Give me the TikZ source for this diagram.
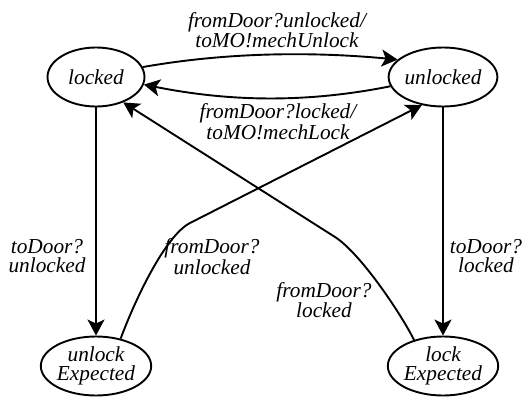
\documentclass[tikz,border=0pt]{standalone}
\usepackage{fontspec}
\setmainfont{Liberation Serif}
\newfontfamily\diagfont{Liberation Serif}
\usetikzlibrary{shapes.geometric,arrows.meta}
\newcommand{\labfont}{\diagfont\fontsize{21.3}{19}\selectfont\itshape}
\begin{document}
\begin{tikzpicture}[x=1pt,y=-1pt,
  state/.style={ellipse,draw,line width=1.9pt,minimum width=97pt,minimum height=59pt,inner sep=0pt,align=center,font=\labfont},
  lbl/.style={inner sep=0pt,align=center,font=\labfont},
  edge/.style={line width=1.9pt,-{Stealth[length=16pt,width=17pt,inset=4pt]}}]
\useasboundingbox[fill=white] (0,0) rectangle (522,399);
% states
\node[state] (L)  at (96,77)  {locked};
\node[state] (U)  at (443,77) {unlocked};
\node[state] (UE) at (96,366) {unlock\\Expected};
\node[state] (LE) at (443,366) {lock\\Expected};
% bend points
\coordinate (b1) at (190,223);
\coordinate (b2) at (335,237);
% transitions
\draw[edge] (L.12) .. controls +(85,-15) and +(-85,-8) .. (U.159);
\draw[edge] (U.190) .. controls +(-85,17) and +(85,17) .. (L.-9);
\draw[edge] (L) -- (UE);
\draw[edge] (U) -- (LE);
\draw[edge] (UE.48) .. controls (135,300) and (165,236) .. (b1) -- (U.233);
\draw[edge] (LE.138) .. controls (400,312) and (360,253) .. (b2) -- (L.-43);
% labels
\node[lbl] (t1) at (277,30)    {fromDoor?unlocked/\\toMO!mechUnlock};
\node[lbl] (t2) at (278,121.5) {fromDoor?locked/\\toMO!mechLock};
\node[lbl] (t3) at (47,256.5)  {toDoor?\\unlocked};
\node[lbl] (t4) at (486,256.5) {toDoor?\\locked};
\node[lbl] (t5) at (212,256.5) {fromDoor?\\unlocked};
\node[lbl] (t6) at (324,300)   {fromDoor?\\locked};
\end{tikzpicture}
\end{document}
